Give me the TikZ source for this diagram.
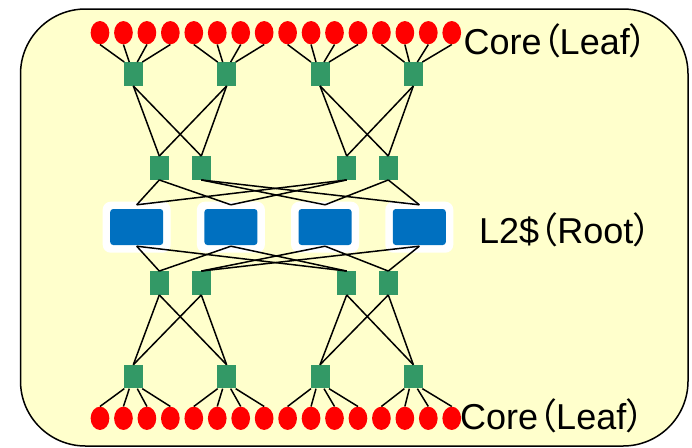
\documentclass[tikz,border=0pt]{standalone}
\usepackage{fontspec}
\setmainfont{Liberation Sans}
\newfontfamily\cjkfont[Script=CJK, RawFeature=+palt]{Noto Sans CJK JP}
\usetikzlibrary{shapes.geometric}
\definecolor{panel}{HTML}{FFFFCC}
\definecolor{coregreen}{HTML}{339966}
\definecolor{cacheblue}{HTML}{0070C0}
\newcommand{\fwlp}{{\cjkfont （}}
\newcommand{\fwrp}{{\cjkfont ）}}
\tikzset{
    leaf/.style={ellipse, fill=red, inner sep=0, minimum width=18.7pt, minimum height=23.3pt},
    switch/.style={rectangle, fill=coregreen, inner sep=0, minimum width=19pt, minimum height=23.5pt},
    halo/.style={rectangle, rounded corners=8pt, fill=white, inner sep=0, minimum width=68pt, minimum height=51pt},
    bank/.style={rectangle, rounded corners=3pt, fill=cacheblue, inner sep=0, minimum width=53pt, minimum height=36pt},
    wire/.style={black, line width=1.5pt},
    caption/.style={inner sep=0, anchor=base west, font=\fontsize{36}{40}\selectfont}
}

\begin{document}
\begin{tikzpicture}[x=1pt, y=-1pt]
	\useasboundingbox (0,0) rectangle (692,447);
	\draw[fill=panel, line width=1.5pt, rounded corners=65pt] (20.5,9) rectangle (688,446);
	
	\foreach \i in {1, ..., 16} {
			\pgfmathsetmacro{\x}{100+23.45*(\i-1)}
			\node[leaf] (lt\i) at (\x,32.7) {};
			\node[leaf] (lb\i) at (\x,418.3) {};
	}
	
	\foreach \i in {1, ..., 4} {
			\pgfmathsetmacro{\x}{133.3+93.35*(\i-1)}
			\node[switch] (st\i) at (\x,74) {};
			\node[switch] (sb\i) at (\x,376.7) {};
			\pgfmathsetmacro{\x}{136.7+94.2*(\i-1)}
			\node[halo] (h\i) at (\x,227.2) {};
			\node[bank] (b\i) at (\x,227) {};
	}
	
	\foreach \i/\x in {1/159.3, 2/201.3, 3/346.7, 4/388.3} {
			\node[switch] (mu\i) at (\x,168) {};
			\node[switch] (ml\i) at (\x,283) {};
	}
	
	% cores to first switches
	\foreach \g in {0, ..., 3} {
			\foreach \j/\dx in {1/-9, 2/-4, 3/4, 4/9} {
					\pgfmathtruncatemacro{\n}{4*\g+\j}
					\pgfmathtruncatemacro{\sw}{\g+1}
					\draw[wire] (lt\n.south) -- ([xshift=\dx pt]st\sw.north);
					\draw[wire] (lb\n.north) -- ([xshift=\dx pt]sb\sw.south);
			}
	}
	
	\foreach \p/\q in {1/1, 1/2, 2/1, 2/2, 3/3, 3/4, 4/3, 4/4} {
			\draw[wire] (st\p.south) -- (mu\q.north);
			\draw[wire] (sb\p.north) -- (ml\q.south);
	}
	
	% switches to L2 banks
	\foreach \p/\q in {1/1, 1/2, 3/1, 3/2, 2/3, 2/4, 4/3, 4/4} {
			\draw[wire] (mu\p.south) -- ([yshift=4pt]b\q.north);
			\draw[wire] (ml\p.north) -- ([yshift=-1pt]b\q.south);
	}
	
	\node[caption] (toptext) at (463.5,54.5) {Core\fwlp Leaf\fwrp};
	\node[caption] (bottext) at (460,429) {Core\fwlp Leaf\fwrp};
	\node[caption] (roottext) at (479,243) {L2\$\fwlp Root\fwrp};
	
\end{tikzpicture}
\end{document}
